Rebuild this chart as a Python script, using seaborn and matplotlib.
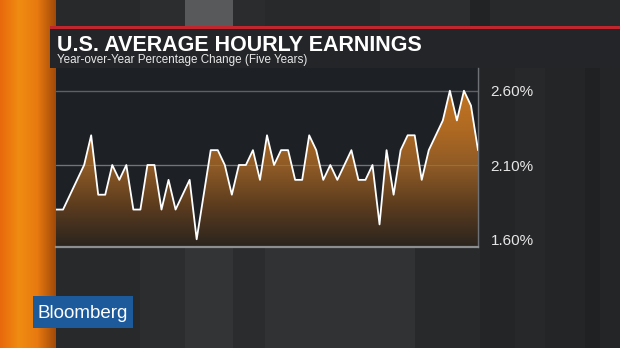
import numpy as np
import pandas as pd
import matplotlib
matplotlib.use("Agg")
import matplotlib.pyplot as plt
from matplotlib.patches import Rectangle
from matplotlib.colors import LinearSegmentedColormap
import seaborn as sns

# ---- data (monthly YoY % change, five years) ----
months = list(range(61))
earnings = [1.8, 1.8, 1.9, 2.0, 2.1, 2.3, 1.9, 1.9, 2.1, 2.0,
            2.1, 1.8, 1.8, 2.1, 2.1, 1.8, 2.0, 1.8, 1.9, 2.0,
            1.6, 1.9, 2.2, 2.2, 2.1, 1.9, 2.1, 2.1, 2.2, 2.0,
            2.3, 2.1, 2.2, 2.2, 2.0, 2.0, 2.3, 2.2, 2.0, 2.1,
            2.0, 2.1, 2.2, 2.0, 2.0, 2.1, 1.7, 2.2, 1.9, 2.2,
            2.3, 2.3, 2.0, 2.2, 2.3, 2.4, 2.6, 2.4, 2.6, 2.5,
            2.2]
tick_values = [1.6, 2.1, 2.6]
tick_labels = ["1.60%", "2.10%", "2.60%"]
title = "U.S. AVERAGE HOURLY EARNINGS"
subtitle = "Year-over-Year Percentage Change (Five Years)"

df = pd.DataFrame({"month": months, "pct": earnings})

sns.set_theme(style="white")
plt.rcParams["font.family"] = ["Liberation Sans", "DejaVu Sans"]

W, H = 620, 348
fig = plt.figure(figsize=(W / 100, H / 100), dpi=100)
fig.patch.set_facecolor("#262729")

# ---- background decoration (pixel coords, y from top) ----
bg = fig.add_axes([0, 0, 1, 1], zorder=0)
bg.set_xlim(0, W)
bg.set_ylim(H, 0)
bg.axis("off")

def rect(x0, y0, x1, y1, color, alpha=1.0):
    bg.add_patch(Rectangle((x0, y0), x1 - x0, y1 - y0, color=color,
                           alpha=alpha, lw=0))

rect(0, 0, W, H, "#28292b")
# vertical stripes (subtle)
rect(140, 0, 185, H, "#2c2d2f")
rect(185, 0, 233, 27, "#58595a")
rect(185, 247, 233, H, "#333436")
rect(233, 0, 265, H, "#2b2c2e")
rect(265, 247, 415, H, "#313234")
rect(380, 0, 470, 27, "#2c2d2f")
rect(470, 0, 490, 27, "#222325")
rect(480, 68, W, H, "#242527")
rect(515, 68, 545, H, "#27282a")
rect(585, 68, 600, H, "#202123")
# orange stripe
orange = LinearSegmentedColormap.from_list("o", ["#e8680c", "#f08c12", "#e87a10", "#a24a08"])
grad = np.linspace(0, 1, 100).reshape(1, -1)
bg.imshow(grad, cmap=orange, extent=[0, 56, H, 0], aspect="auto", zorder=1)
# title panel
rect(50, 27, W, 68, "#232528")
rect(50, 25.5, W, 28.5, "#c0262e")
# chart panel
rect(56, 68, 478, 247, "#1d2126")
# Bloomberg logo
rect(33, 296, 133, 328, "#1c5a9c")
bg.text(83, 313, "Bloomberg", color="white", fontsize=13.5, ha="center",
        va="center", family=["Liberation Sans", "DejaVu Sans"])
# titles
bg.text(57, 51, title, color="white", fontsize=15.5, fontweight="bold",
        ha="left", va="baseline")
bg.text(57, 63.5, subtitle, color="#e8e8e8", fontsize=8.4,
        ha="left", va="baseline")

# ---- chart ----
ax = fig.add_axes([56 / W, 1 - 247 / H, (478 - 56) / W, (247 - 68) / H], zorder=2)
ax.set_facecolor("none")
ax.set_xlim(0, 60)
ax.set_ylim(1.548, 2.753)

for v in tick_values[1:]:
    ax.axhline(v, color="#5c6166", lw=1.0, zorder=1)

poly = ax.fill_between(df["month"], df["pct"], 1.548, color="none", lw=0, zorder=2)
fill_cmap = LinearSegmentedColormap.from_list(
    "f", ["#2a241f", "#5a3b1e", "#8e5a26", "#b06a22", "#c47622"])
gimg = np.linspace(0, 1, 256).reshape(-1, 1)
im = ax.imshow(gimg, cmap=fill_cmap, origin="lower", aspect="auto",
               extent=[0, 60, 1.548, 2.62], zorder=2)
im.set_clip_path(poly.get_paths()[0], transform=ax.transData)
ax.axhline(2.1, color="#9a8a78", lw=0.8, alpha=0.45, zorder=3)

sns.lineplot(data=df, x="month", y="pct", ax=ax, color="white", lw=1.3, zorder=4)

ax.set_xlabel("")
ax.set_ylabel("")
ax.set_xticks([])
ax.yaxis.tick_right()
ax.set_yticks(tick_values)
ax.set_yticklabels(tick_labels)
ax.tick_params(axis="y", length=0, pad=9, labelsize=11, labelcolor="#e6e6e6")
for s in ["top", "left"]:
    ax.spines[s].set_visible(False)
ax.spines["right"].set_color("#6e7276")
ax.spines["right"].set_linewidth(1.0)
ax.spines["bottom"].set_color("#8c8e90")
ax.spines["bottom"].set_linewidth(1.6)

fig.savefig("out.png", dpi=100, facecolor=fig.get_facecolor())
